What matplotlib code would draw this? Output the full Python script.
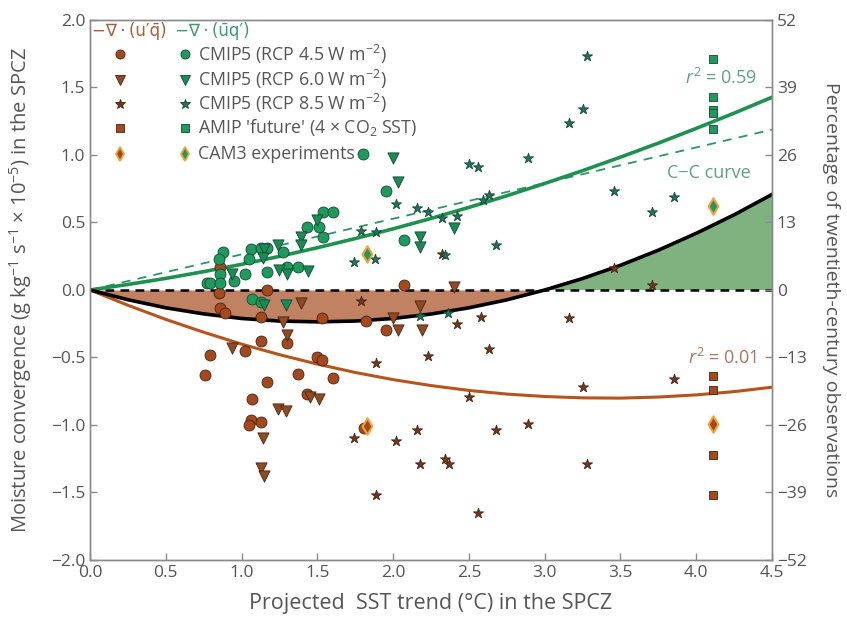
import numpy as np
import matplotlib
matplotlib.use("Agg")
import matplotlib.pyplot as plt

plt.rcParams['font.family'] = ['Open Sans', 'DejaVu Sans']
plt.rcParams['mathtext.fontset'] = 'custom'
plt.rcParams['mathtext.rm'] = 'Open Sans'
plt.rcParams['mathtext.it'] = 'Open Sans:italic'

# ---- data ----
# CMIP5 RCP4.5
rcp45_brown_x = [0.86, 1.17, 2.07, 0.85, 0.86, 0.89, 1.13, 1.53, 1.82, 1.95, 1.13, 1.30, 1.02,
                 0.79, 1.50, 1.53, 0.76, 1.37, 1.60, 1.17, 1.07, 1.43, 1.06, 1.05, 1.13, 1.81]
rcp45_brown_y = [0.17, 0.00, 0.04, -0.02, -0.13, -0.17, -0.20, -0.21, -0.23, -0.30, -0.38, -0.39, -0.45,
                 -0.48, -0.50, -0.52, -0.63, -0.62, -0.65, -0.68, -0.81, -0.77, -0.96, -1.00, -0.98, -1.02]
rcp45_green_x = [1.80, 1.95, 1.54, 1.60, 1.43, 1.51, 1.54, 2.07, 0.88, 1.06, 1.13, 1.17, 1.27,
                 1.05, 0.85, 0.86, 1.02, 1.17, 1.30, 1.37, 0.95, 0.77, 0.79, 0.86, 1.07, 1.13]
rcp45_green_y = [1.01, 0.73, 0.58, 0.58, 0.47, 0.47, 0.39, 0.37, 0.28, 0.30, 0.31, 0.31, 0.28,
                 0.23, 0.23, 0.12, 0.12, 0.13, 0.17, 0.17, 0.07, 0.05, 0.05, 0.05, -0.07, -0.09]

# CMIP5 RCP6.0
rcp60_brown_x = [1.39, 1.27, 1.30, 0.94, 1.24, 1.29, 1.45, 1.51, 1.14, 1.13, 1.15, 2.00, 2.03,
                 2.18, 2.19, 2.40]
rcp60_brown_y = [-0.10, -0.24, -0.33, -0.43, -0.88, -0.90, -0.79, -0.81, -1.10, -1.32, -1.38, -0.21, -0.30,
                 -0.12, -0.30, 0.02]
rcp60_green_x = [2.00, 2.03, 1.50, 1.39, 1.39, 1.24, 1.15, 1.14, 2.18, 2.18, 2.40, 1.25, 1.30,
                 1.44, 0.94, 1.15, 1.29]
rcp60_green_y = [0.98, 0.80, 0.52, 0.39, 0.33, 0.33, 0.30, 0.24, 0.39, 0.32, 0.46, 0.15, 0.12,
                 0.14, 0.12, -0.11, -0.11]

# CMIP5 RCP8.5
rcp85_brown_x = [1.79, 3.71, 2.42, 2.58, 3.16, 1.89, 2.23, 2.63, 3.85, 3.25, 2.50, 1.74, 2.02,
                 2.16, 2.68, 2.89, 2.18, 2.34, 2.37, 3.28, 1.89, 2.56, 2.32, 3.46]
rcp85_brown_y = [-0.08, 0.04, -0.25, -0.20, -0.21, -0.54, -0.49, -0.44, -0.66, -0.72, -0.79, -1.10, -1.12,
                 -1.04, -1.04, -0.99, -1.29, -1.25, -1.29, -1.29, -1.52, -1.65, 0.27, 0.16]
rcp85_green_x = [3.28, 3.25, 3.16, 2.89, 2.50, 2.56, 3.46, 3.85, 3.71, 2.59, 2.63, 2.02, 2.16,
                 2.23, 2.32, 2.42, 1.79, 1.89, 2.68, 1.74, 1.88, 2.34, 2.18, 2.36]
rcp85_green_y = [1.73, 1.34, 1.24, 0.98, 0.93, 0.91, 0.73, 0.69, 0.58, 0.67, 0.70, 0.64, 0.61,
                 0.58, 0.53, 0.55, 0.44, 0.43, 0.33, 0.21, 0.23, 0.26, -0.19, -0.17]

# AMIP 'future'
amip_brown_x = [4.11, 4.11, 4.11, 4.11]
amip_brown_y = [-0.64, -0.74, -1.22, -1.52]
amip_green_x = [4.11, 4.11, 4.11, 4.11, 4.11]
amip_green_y = [1.71, 1.43, 1.33, 1.31, 1.19]

# CAM3 experiments
cam3_brown_x = [1.83, 4.11]
cam3_brown_y = [-1.01, -0.99]
cam3_green_x = [1.83, 4.11]
cam3_green_y = [0.27, 0.62]

sst_grid = [0.0, 0.25, 0.5, 0.75, 1.0, 1.25, 1.5, 1.75, 2.0, 2.25, 2.5, 2.75, 3.0,
            3.25, 3.5, 3.75, 4.0, 4.25, 4.5]
fit_green = [0.0, 0.041, 0.086, 0.136, 0.190, 0.249, 0.313, 0.381, 0.453, 0.530, 0.612, 0.698,
             0.789, 0.884, 0.984, 1.088, 1.197, 1.310, 1.428]
fit_brown = [0.0, -0.113, -0.218, -0.313, -0.401, -0.479, -0.549, -0.611, -0.664, -0.708, -0.744,
             -0.771, -0.789, -0.799, -0.801, -0.793, -0.777, -0.753, -0.720]
cc_curve = [0.0, 0.066, 0.132, 0.198, 0.264, 0.330, 0.396, 0.462, 0.528, 0.594, 0.660, 0.726,
            0.792, 0.858, 0.924, 0.990, 1.056, 1.122, 1.188]

yticks_left = [-2.0, -1.5, -1.0, -0.5, 0.0, 0.5, 1.0, 1.5, 2.0]
xticks = [0.0, 0.5, 1.0, 1.5, 2.0, 2.5, 3.0, 3.5, 4.0, 4.5]
yticks_right = [-52, -39, -26, -13, 0, 13, 26, 39, 52]

# ---- colours ----
c_brown = '#a3491d'
c_brown_tri = '#8e4a22'
c_brown_star = '#6e3a1f'
c_green = '#1f9a5c'
c_green_tri = '#1b8a55'
c_green_star = '#267062'
c_edge_b = '#4a2210'
c_edge_g = '#0f4a30'
c_orange = '#f2a23a'
c_text = '#555555'
c_spine = '#8a8a8a'

fig = plt.figure(figsize=(8.47, 6.17), dpi=100)
ax = fig.add_axes([0.1063, 0.0924, 0.8052, 0.8752])

sst = np.array(sst_grid)
total = np.array(fit_green) + np.array(fit_brown)

ax.fill_between(sst, total, 0, where=total <= 0, interpolate=True, color='#c08262', lw=0, zorder=1)
ax.fill_between(sst, total, 0, where=total >= 0, interpolate=True, color='#80b280', lw=0, zorder=1)
ax.axhline(0, color='black', lw=1.8, ls=(0, (3.5, 2.5)), zorder=2)
ax.plot(sst, cc_curve, color='#2e9366', lw=1.3, ls=(0, (5, 4)), zorder=2)
ax.plot(sst, fit_green, color='#1c9150', lw=2.6, zorder=2)
ax.plot(sst, fit_brown, color='#b5541c', lw=2.2, zorder=2)
ax.plot(sst, total, color='black', lw=2.6, zorder=2)

ekw = dict(linewidths=0.6, zorder=4)
ax.scatter(rcp45_brown_x, rcp45_brown_y, s=62, marker='o', c=c_brown, edgecolors=c_edge_b, **ekw)
ax.scatter(rcp45_green_x, rcp45_green_y, s=62, marker='o', c=c_green, edgecolors=c_edge_g, **ekw)
ax.scatter(rcp60_brown_x, rcp60_brown_y, s=65, marker='v', c=c_brown_tri, edgecolors=c_edge_b, **ekw)
ax.scatter(rcp60_green_x, rcp60_green_y, s=65, marker='v', c=c_green_tri, edgecolors=c_edge_g, **ekw)
ax.scatter(rcp85_brown_x, rcp85_brown_y, s=58, marker='*', c=c_brown_star, edgecolors=c_edge_b, **ekw)
ax.scatter(rcp85_green_x, rcp85_green_y, s=58, marker='*', c=c_green_star, edgecolors=c_edge_g, **ekw)
ax.scatter(amip_brown_x, amip_brown_y, s=32, marker='s', c=c_brown, edgecolors=c_edge_b, **ekw)
ax.scatter(amip_green_x, amip_green_y, s=32, marker='s', c=c_green, edgecolors=c_edge_g, **ekw)
ax.scatter(cam3_brown_x, cam3_brown_y, s=70, marker='d', c=c_brown, edgecolors=c_orange, linewidths=1.5, zorder=5)
ax.scatter(cam3_green_x, cam3_green_y, s=70, marker='d', c=c_green, edgecolors=c_orange, linewidths=1.5, zorder=5)

# annotations
ax.text(4.40, 1.57, '$r^2$ = 0.59', color='#5f9f82', fontsize=13, ha='right', va='center')
ax.text(4.36, 0.87, 'C\u2212C curve', color='#5f9f82', fontsize=13, ha='right', va='center')
ax.text(4.40, -0.50, '$r^2$ = 0.01', color='#a87663', fontsize=13, ha='right', va='center')

# hand-made legend (two marker columns)
ax.text(0.003, 0.979, "\u2212\u2207\u2009\u00b7\u2009(u\u2032q\u0304)", color='#a0603a', fontsize=12,
        transform=ax.transAxes, va='center', ha='left', family=['DejaVu Sans'])
ax.text(0.124, 0.979, "\u2212\u2207\u2009\u00b7\u2009(u\u0304q\u2032)", color='#3a9a70', fontsize=12,
        transform=ax.transAxes, va='center', ha='left', family=['DejaVu Sans'])
leg_rows = [
    ('o', c_brown, c_green, c_edge_b, c_edge_g, 6.5, 'CMIP5 (RCP 4.5 W m$^{-2}$)'),
    ('v', c_brown_tri, c_green_tri, c_edge_b, c_edge_g, 6.5, 'CMIP5 (RCP 6.0 W m$^{-2}$)'),
    ('*', c_brown_star, c_green_star, c_edge_b, c_edge_g, 7, 'CMIP5 (RCP 8.5 W m$^{-2}$)'),
    ('s', c_brown, c_green, c_edge_b, c_edge_g, 5.5, "AMIP 'future' (4 \u00d7 CO$_2$ SST)"),
    ('d', c_brown, c_green, c_orange, c_orange, 7.5, 'CAM3 experiments'),
]
row_y = [0.937, 0.889, 0.845, 0.800, 0.752]
for (mk, cb, cg, eb, eg, ms, lab), yy in zip(leg_rows, row_y):
    mew = 1.3 if mk == 'd' else 0.6
    ax.plot([0.044], [yy], marker=mk, ms=ms, color=cb, mec=eb, mew=mew, ls='none',
            transform=ax.transAxes, zorder=6)
    ax.plot([0.139], [yy], marker=mk, ms=ms, color=cg, mec=eg, mew=mew, ls='none',
            transform=ax.transAxes, zorder=6)
    ax.text(0.158, yy, lab, color=c_text, fontsize=12.8, transform=ax.transAxes,
            va='center', ha='left')

# axes
ax.set_xlim(0, 4.5)
ax.set_ylim(-2.0, 2.0)
ax.set_xticks(xticks)
ax.set_xticklabels(['%.1f' % t for t in xticks])
ax.set_yticks(yticks_left)
ax.set_yticklabels([('%.1f' % t).replace('-', '\u2212') for t in yticks_left])
ax.tick_params(direction='in', length=5, width=1, color=c_spine, labelcolor=c_text,
               labelsize=12.5, top=False, right=False)
for sp in ax.spines.values():
    sp.set_color(c_spine)
    sp.set_linewidth(1.0)
ax.set_xlabel('Projected  SST trend (\u00b0C) in the SPCZ', fontsize=15.5, color=c_text, labelpad=9)
ax.set_ylabel('Moisture convergence (g kg$^{-1}$ s$^{-1}$ \u00d7 10$^{-5}$) in the SPCZ',
              fontsize=14.5, color=c_text, labelpad=12)

ax2 = ax.twinx()
ax2.set_ylim(-52, 52)
ax2.set_yticks(yticks_right)
ax2.set_yticklabels([str(t).replace('-', '\u2212') for t in yticks_right])
ax2.tick_params(direction='in', length=5, width=1, color=c_spine, labelcolor=c_text, labelsize=12.5)
for sp in ax2.spines.values():
    sp.set_color(c_spine)
    sp.set_linewidth(1.0)
ax2.set_ylabel('Percentage of twentieth-century observations', fontsize=14, color=c_text,
               rotation=270, labelpad=24)

fig.savefig('out.png', dpi=100)
